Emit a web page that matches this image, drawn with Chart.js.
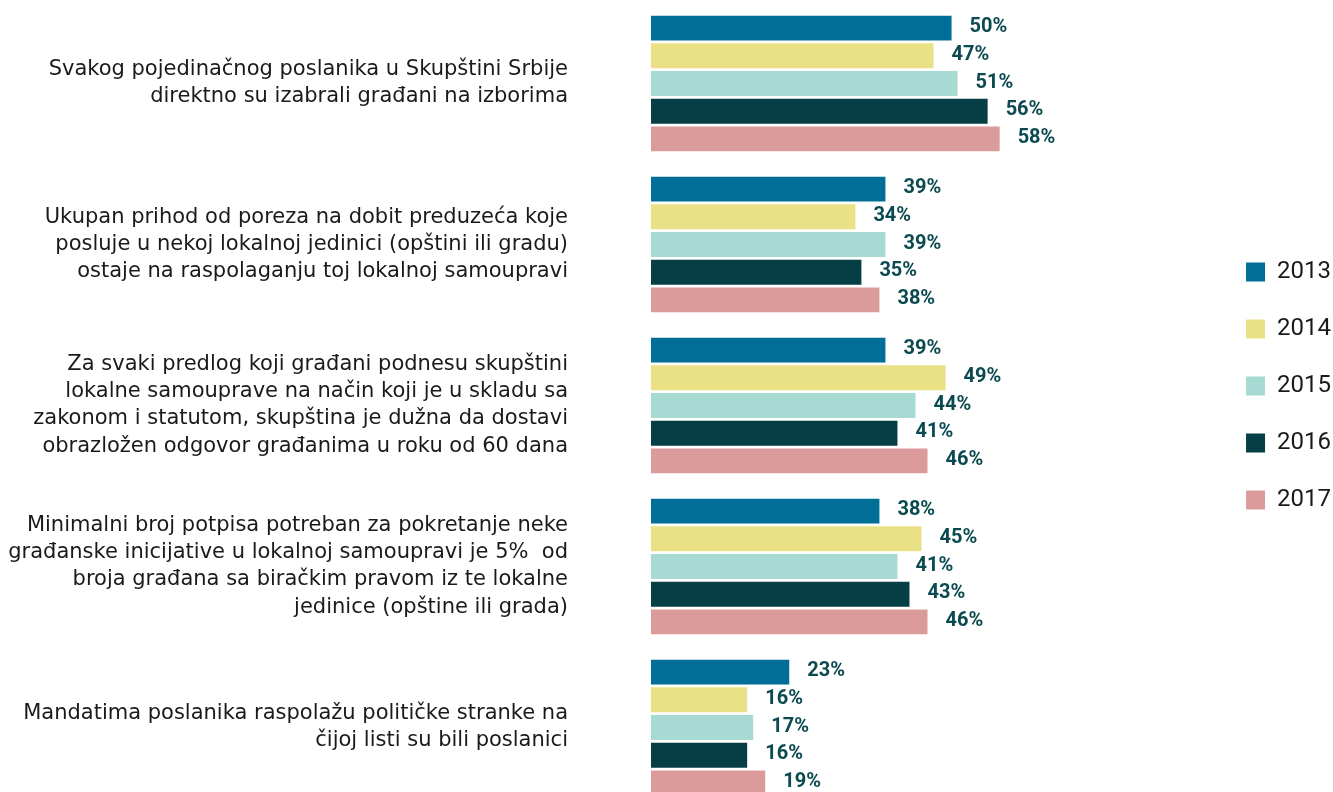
<!DOCTYPE html>
<html>
<head>
<meta charset="utf-8">
<script src="https://cdn.jsdelivr.net/npm/chart.js@4/dist/chart.umd.min.js"></script>
<style>
    html, body { margin: 0; padding: 0; background: #fff; overflow: hidden; }
    #wrap { width: 1333px; height: 808px; }
</style>
</head>
<body>
<div id="wrap"><canvas id="chart"></canvas></div>
<script>
// Categories (statements) and yearly shares
const categories = [
    ['Svakog pojedinačnog poslanika u Skupštini Srbije', 'direktno su izabrali građani na izborima'],
    ['Ukupan prihod od poreza na dobit preduzeća koje', 'posluje u nekoj lokalnoj jedinici (opštini ili gradu)', 'ostaje na raspolaganju toj lokalnoj samoupravi'],
    ['Za svaki predlog koji građani podnesu skupštini', 'lokalne samouprave na način koji je u skladu sa', 'zakonom i statutom, skupština je dužna da dostavi', 'obrazložen odgovor građanima u roku od 60 dana'],
    ['Minimalni broj potpisa potreban za pokretanje neke', 'građanske inicijative u lokalnoj samoupravi je 5%  od', 'broja građana sa biračkim pravom iz te lokalne', 'jedinice (opštine ili grada)'],
    ['Mandatima poslanika raspolažu političke stranke na', 'čijoj listi su bili poslanici']
];

const years = ['2013', '2014', '2015', '2016', '2017'];

const values2013 = [50, 39, 39, 38, 23];
const values2014 = [47, 34, 49, 45, 16];
const values2015 = [51, 39, 44, 41, 17];
const values2016 = [56, 35, 41, 43, 16];
const values2017 = [58, 38, 46, 46, 19];

const colors = ['#006e96', '#eae187', '#a6dad3', '#053f45', '#db9b9b'];

const seriesValues = [values2013, values2014, values2015, values2016, values2017];

// draws "50%" style labels next to each bar
const valueLabels = {
    id: 'valueLabels',
    afterDatasetsDraw(chart) {
        const ctx = chart.ctx;
        ctx.save();
        ctx.font = 'bold 20px Roboto';
        ctx.fillStyle = '#0b4a50';
        ctx.textAlign = 'left';
        ctx.textBaseline = 'middle';
        chart.data.datasets.forEach((ds, i) => {
            chart.getDatasetMeta(i).data.forEach((bar, j) => {
                ctx.fillText(ds.data[j] + '%', bar.x + 18, bar.y - 1);
            });
        });
        ctx.restore();
    }
};

const ctx = document.getElementById('chart').getContext('2d');

new Chart(ctx, {
    type: 'bar',
    data: {
        labels: categories,
        datasets: years.map((year, i) => ({
            label: year,
            data: seriesValues[i],
            backgroundColor: colors[i],
            barPercentage: 0.9,
            categoryPercentage: 0.86
        }))
    },
    options: {
        indexAxis: 'y',
        responsive: true,
        maintainAspectRatio: false,
        animation: false,
        layout: {
            padding: { top: 3, bottom: 0, left: 0, right: -8 }
        },
        scales: {
            x: {
                display: false,
                min: 0,
                max: 93.5
            },
            y: {
                grid: { display: false },
                border: { display: false },
                ticks: {
                    color: '#1a1a1a',
                    font: { family: 'DejaVu Sans', size: 21, lineHeight: 1.29 },
                    padding: 75
                },
                afterFit(scale) {
                    scale.width = 651;
                    scale.paddingTop = 0;
                    scale.paddingBottom = 0;
                }
            }
        },
        plugins: {
            legend: {
                position: 'right',
                align: 'start',
                title: {
                    display: true,
                    text: ' ',
                    font: { size: 10 },
                    padding: { top: 212, bottom: 0 }
                },
                labels: {
                    boxWidth: 19,
                    boxHeight: 19,
                    padding: 33,
                    color: '#1a1a1a',
                    font: { family: 'Roboto', size: 24 }
                }
            },
            tooltip: { enabled: false }
        }
    },
    plugins: [valueLabels]
});
</script>
</body>
</html>
